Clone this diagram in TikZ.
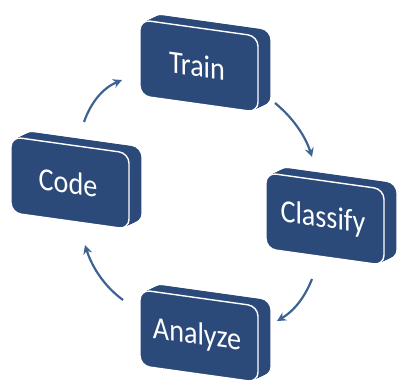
\documentclass[tikz,border=0pt]{standalone}
\usepackage{fontspec}
\setmainfont{Carlito}
\usetikzlibrary{arrows.meta}
\definecolor{boxblue}{RGB}{43,74,122}
\definecolor{arrblue}{RGB}{62,98,148}
\newcommand\cyclebox[4]{%
  \begin{scope}[shift={(#2,#3)}, yslant=-0.14]
    \foreach \t in {0,0.05,...,1.0}
      \fill[face, shift={(\t*13,-\t*8)}] (-59,-38) rectangle (59,38);
    \draw[face, draw=white, line width=1.4pt] (-59,-38) rectangle (59,38);
    \node[lbl] (#1) at (-2,0) {#4};
  \end{scope}}
\begin{document}
\begin{tikzpicture}[x=1pt,y=-1pt,
  face/.style={fill=boxblue, rounded corners=10pt},
  lbl/.style={text=white, font=\fontsize{32}{32}\selectfont, xscale=0.88, transform shape, inner sep=0pt},
  cyc/.style={draw=arrblue, line width=2.2pt, -{Stealth[length=9pt,width=9pt]}}]
\useasboundingbox (0,0) rectangle (397,385);
\cyclebox{train}{199}{66}{Train}
\cyclebox{classify}{325}{219}{Classify}
\cyclebox{analyze}{199}{336}{Analyze}
\cyclebox{code}{70}{183}{Code}
\coordinate (a1s) at (84,122);  \coordinate (a1e) at (122,80);
\coordinate (a2s) at (275,103); \coordinate (a2e) at (312,157);
\coordinate (a3s) at (312,279); \coordinate (a3e) at (277,321);
\coordinate (a4s) at (123,300); \coordinate (a4e) at (85,245);
\draw[cyc] (a1s) .. controls (91,102) and (103,88) .. (a1e);
\draw[cyc] (a2s) .. controls (292,117) and (305,135) .. (a2e);
\draw[cyc] (a3s) .. controls (305,297) and (294,311) .. (a3e);
\draw[cyc] (a4s) .. controls (104,286) and (92,267) .. (a4e);
\end{tikzpicture}
\end{document}
